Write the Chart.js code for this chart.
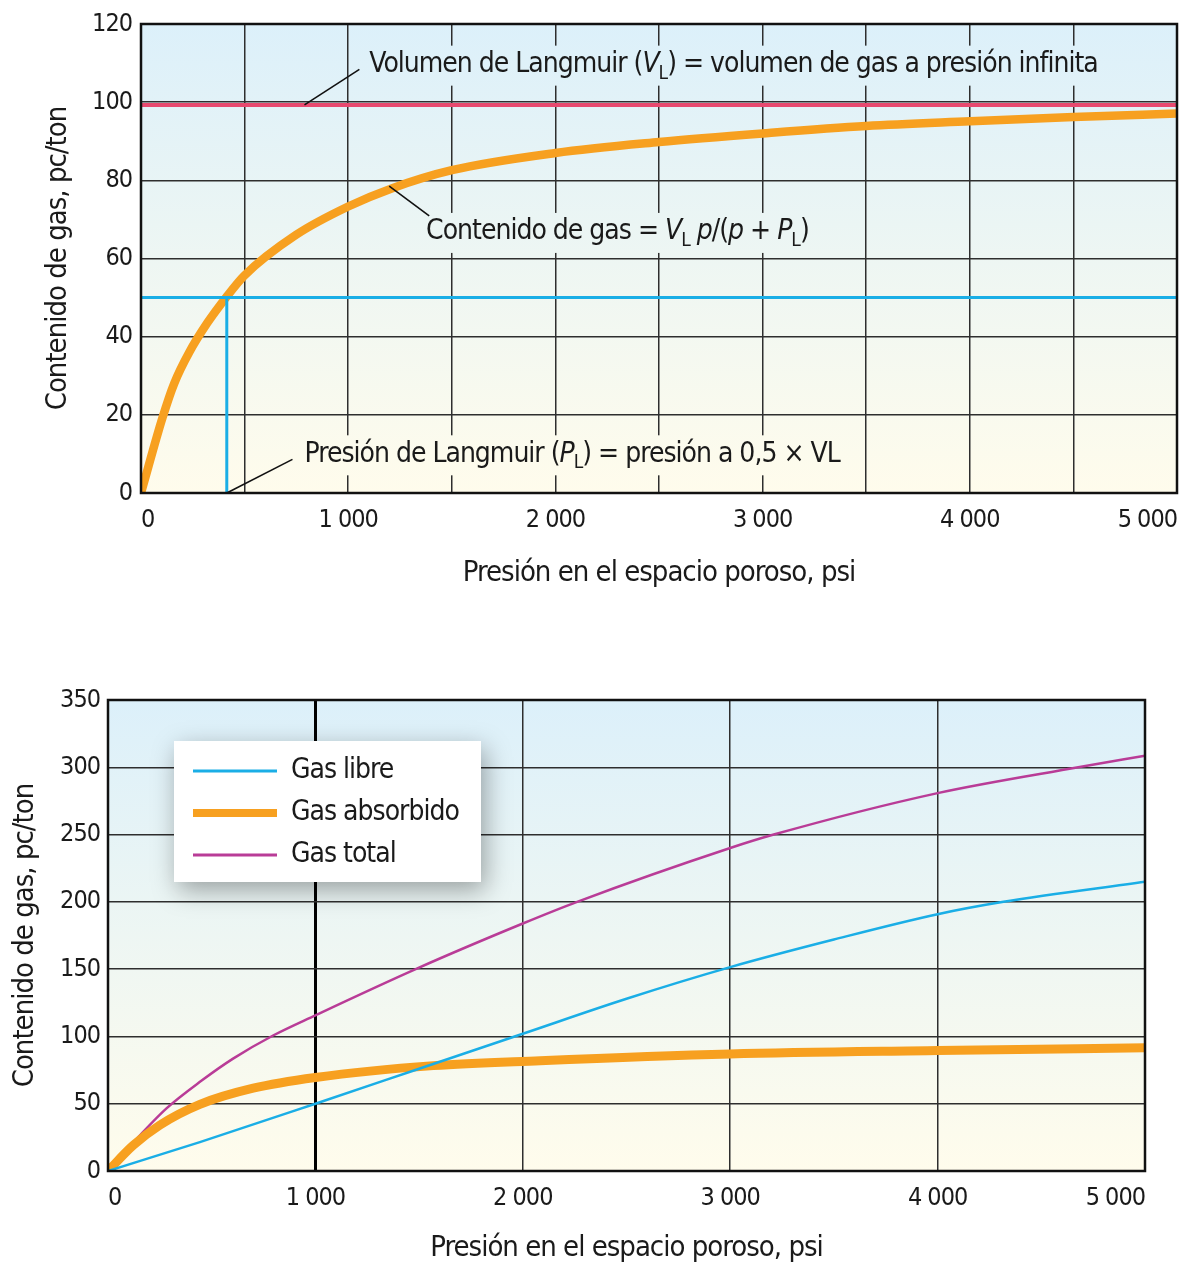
<!DOCTYPE html>
<html>
<head>
<meta charset="utf-8">
<script src="https://cdn.jsdelivr.net/npm/chart.js@4.4.1/dist/chart.umd.min.js"></script>
<style>
  html, body { margin: 0; padding: 0; background: #fff; }
  canvas { position: absolute; left: 0; }
  #chart1 { top: 0; }
  #chart2 { top: 600px; }
</style>
</head>
<body>
<canvas id="chart1" width="1189" height="600"></canvas>
<canvas id="chart2" width="1189" height="666"></canvas>
<script>
// --- datos grafico superior (isoterma de Langmuir) ---
const presionCurva = [0, 104, 160, 233, 320, 410, 498, 747, 1000, 1213, 1500, 2000, 2500, 3000, 3500, 4000, 4500, 5000];
const contenidoGas = [0, 19.3, 28, 36, 43.5, 50, 55.6, 66, 73.3, 78, 82.6, 87, 89.8, 92, 93.9, 95.1, 96.2, 97.1];
const volumenLangmuir = 99.3;
const presionLangmuir = 414;
const mitadVL = 50;
const presionMax = 5000;

// --- datos grafico inferior ---
const presionLibre = [0, 443, 1000, 1500, 2000, 2500, 3000, 3500, 4000, 4318, 5000];
const gasLibre = [0, 21.5, 50, 76, 102, 128, 151.5, 172, 190.8, 200, 214.9];
const presionAbs = [0, 121, 249, 443, 700, 1000, 1569, 2083, 3000, 4000, 5000];
const gasAbsorbido = [0, 19, 34, 49.5, 61.5, 69.5, 78.3, 82, 87, 89.5, 91.5];
const presionTotal = [0, 121, 282, 450, 603, 796, 1000, 1489, 2000, 2262, 3000, 3210, 4000, 4678, 5000];
const gasTotal = [0, 21, 46.5, 67, 83.5, 100.7, 115.7, 150.4, 183.9, 200, 240, 250, 280.8, 300, 308.6];

const FONT = "'Liberation Sans Narrow', 'DejaVu Sans Condensed', Roboto, sans-serif";
Chart.defaults.font.family = FONT;
Chart.defaults.color = '#1a1a1a';

const pares = (xs, ys) => xs.map((x, i) => ({x: x, y: ys[i]}));
const miles = v => v % 1000 === 0 ? (v === 0 ? '0' : (v / 1000) + ' 000') : '';

// fondo degradado + marco; letra algo mas estrecha
const fondo = {
  id: 'fondo',
  beforeDraw(chart) {
    const {ctx, chartArea: a} = chart;
    ctx.letterSpacing = '-1px';
    const g = ctx.createLinearGradient(0, a.top, 0, a.bottom);
    g.addColorStop(0, '#dcf0fa');
    g.addColorStop(1, '#fffcec');
    chart.$fondo = g;
    ctx.save();
    ctx.fillStyle = g;
    ctx.fillRect(a.left, a.top, a.width, a.height);
    ctx.restore();
  },
  afterDraw(chart) {
    const {ctx, chartArea: a} = chart;
    ctx.save();
    ctx.strokeStyle = '#111';
    ctx.lineWidth = 2.5;
    ctx.strokeRect(a.left, a.top, a.width, a.height);
    ctx.restore();
  }
};

// texto con cursivas y subindices
function medirRico(ctx, partes, size) {
  let w = 0;
  partes.forEach(p => {
    ctx.font = (p.it ? 'italic ' : '') + (p.sub ? size * 0.68 : size) + 'px ' + FONT;
    w += ctx.measureText(p.t).width;
  });
  return w;
}
function textoRico(ctx, partes, x, y, size) {
  let cx = x;
  partes.forEach(p => {
    ctx.font = (p.it ? 'italic ' : '') + (p.sub ? size * 0.68 : size) + 'px ' + FONT;
    ctx.fillText(p.t, cx, y + (p.sub ? size * 0.32 : 0));
    cx += ctx.measureText(p.t).width;
  });
}

const notas = [
  {x: 1102, y: 109.6, linea: [[789, 99.3], [1054, 108.4]],
   partes: [{t: 'Volumen de Langmuir ('}, {t: 'V', it: true}, {t: 'L', sub: true}, {t: ') = volumen de gas a presión infinita'}]},
  {x: 1376, y: 66.8, linea: [[1198, 78.5], [1391, 70.9]],
   partes: [{t: 'Contenido de gas = '}, {t: 'V', it: true}, {t: 'L', sub: true}, {t: ' '}, {t: 'p', it: true}, {t: '/('}, {t: 'p', it: true}, {t: ' + '}, {t: 'P', it: true}, {t: 'L', sub: true}, {t: ')'}]},
  {x: 789, y: 9.9, linea: [[414, 0], [731, 8.6]],
   partes: [{t: 'Presión de Langmuir ('}, {t: 'P', it: true}, {t: 'L', sub: true}, {t: ') = presión a 0,5 × VL'}]}
];

const anotaciones = {
  id: 'anotaciones',
  afterDatasetsDraw(chart) {
    const {ctx} = chart;
    const sx = chart.scales.x, sy = chart.scales.y;
    const size = 28;
    ctx.save();
    ctx.letterSpacing = '-1px';
    notas.forEach(n => {
      const x = sx.getPixelForValue(n.x), y = sy.getPixelForValue(n.y);
      const w = medirRico(ctx, n.partes, size);
      ctx.fillStyle = chart.$fondo;
      ctx.fillRect(x - 4, y - 19, w + 8, 40);
      ctx.strokeStyle = '#111';
      ctx.lineWidth = 1.6;
      ctx.beginPath();
      ctx.moveTo(sx.getPixelForValue(n.linea[0][0]), sy.getPixelForValue(n.linea[0][1]));
      ctx.lineTo(sx.getPixelForValue(n.linea[1][0]), sy.getPixelForValue(n.linea[1][1]));
      ctx.stroke();
      ctx.fillStyle = '#1a1a1a';
      ctx.textBaseline = 'middle';
      textoRico(ctx, n.partes, x, y, size);
    });
    ctx.restore();
  }
};

new Chart(document.getElementById('chart1'), {
  type: 'line',
  data: {
    datasets: [
      {data: [{x: 0, y: mitadVL}, {x: presionMax, y: mitadVL}], borderColor: '#1aaee6', borderWidth: 3},
      {data: [{x: presionLangmuir, y: 0}, {x: presionLangmuir, y: mitadVL}], borderColor: '#1aaee6', borderWidth: 3},
      {data: [{x: 0, y: volumenLangmuir}, {x: presionMax, y: volumenLangmuir}], borderColor: '#e8496f', borderWidth: 4},
      {data: pares(presionCurva, contenidoGas), borderColor: '#f7a020', borderWidth: 8.5, cubicInterpolationMode: 'monotone'}
    ]
  },
  options: {
    responsive: false,
    animation: false,
    events: [],
    layout: {padding: {top: 19, right: 9}},
    elements: {point: {radius: 0}},
    plugins: {legend: {display: false}, tooltip: {enabled: false}},
    scales: {
      x: {
        type: 'linear', min: 0, max: 5000,
        afterFit(s) { s.height = 107; },
        grid: {color: '#2e2e2e', lineWidth: 1.5, drawTicks: false},
        border: {display: false},
        ticks: {stepSize: 500, padding: 12, align: 'inner', maxRotation: 0, autoSkip: false, font: {size: 25}, callback: miles},
        title: {display: true, text: 'Presión en el espacio poroso, psi', font: {size: 29}, padding: {top: 0, bottom: 9}}
      },
      y: {
        min: 0, max: 120,
        afterFit(s) { s.width = 141; },
        grid: {color: '#2e2e2e', lineWidth: 1.5, drawTicks: false},
        border: {display: false},
        ticks: {stepSize: 20, padding: 9, font: {size: 25}},
        title: {display: true, text: 'Contenido de gas, pc/ton', font: {size: 29}, padding: {top: 41, bottom: 0}}
      }
    }
  },
  plugins: [fondo, anotaciones]
});

// leyenda en recuadro con sombra
const leyenda = {
  id: 'leyenda',
  afterDatasetsDraw(chart) {
    const {ctx, chartArea: a} = chart;
    const x = a.left + 66, y = a.top + 41, w = 307, h = 141;
    ctx.save();
    ctx.shadowColor = 'rgba(0,0,0,0.35)';
    ctx.shadowBlur = 24;
    ctx.shadowOffsetX = 4;
    ctx.shadowOffsetY = 8;
    ctx.fillStyle = '#fff';
    ctx.fillRect(x, y, w, h);
    ctx.restore();
    ctx.save();
    ctx.letterSpacing = '-1px';
    chart.data.datasets.forEach((ds, i) => {
      const yy = y + 30 + i * 42;
      ctx.strokeStyle = ds.borderColor;
      ctx.lineWidth = ds.legendWidth;
      ctx.beginPath();
      ctx.moveTo(x + 19, yy);
      ctx.lineTo(x + 103, yy);
      ctx.stroke();
      ctx.fillStyle = '#1a1a1a';
      ctx.font = '28px ' + FONT;
      ctx.textBaseline = 'middle';
      ctx.fillText(ds.label, x + 117, yy);
    });
    ctx.restore();
  }
};

new Chart(document.getElementById('chart2'), {
  type: 'line',
  data: {
    datasets: [
      {label: 'Gas libre', data: pares(presionLibre, gasLibre), borderColor: '#1aaee6', borderWidth: 2.5, legendWidth: 3, cubicInterpolationMode: 'monotone'},
      {label: 'Gas absorbido', data: pares(presionAbs, gasAbsorbido), borderColor: '#f7a020', borderWidth: 9, legendWidth: 8, cubicInterpolationMode: 'monotone'},
      {label: 'Gas total', data: pares(presionTotal, gasTotal), borderColor: '#b93c97', borderWidth: 2.5, legendWidth: 3, cubicInterpolationMode: 'monotone'}
    ]
  },
  options: {
    responsive: false,
    animation: false,
    events: [],
    layout: {padding: {top: 100, right: 44}},
    elements: {point: {radius: 0}},
    plugins: {legend: {display: false}, tooltip: {enabled: false}},
    scales: {
      x: {
        type: 'linear', min: 0, max: 5000,
        afterFit(s) { s.height = 95; },
        grid: {
          color: c => c.tick && c.tick.value === 1000 ? '#000' : '#2e2e2e',
          lineWidth: c => c.tick && c.tick.value === 1000 ? 3 : 1.5,
          drawTicks: false
        },
        border: {display: false},
        ticks: {stepSize: 1000, padding: 12, align: 'inner', maxRotation: 0, font: {size: 25}, callback: miles},
        title: {display: true, text: 'Presión en el espacio poroso, psi', font: {size: 29}, padding: {top: 0, bottom: 0}}
      },
      y: {
        min: 0, max: 350,
        afterFit(s) { s.width = 108; },
        grid: {color: '#2e2e2e', lineWidth: 1.5, drawTicks: false},
        border: {display: false},
        ticks: {stepSize: 50, padding: 8, font: {size: 25}},
        title: {display: true, text: 'Contenido de gas, pc/ton', font: {size: 29}, padding: {top: 8, bottom: 0}}
      }
    }
  },
  plugins: [fondo, leyenda]
});
</script>
</body>
</html>
